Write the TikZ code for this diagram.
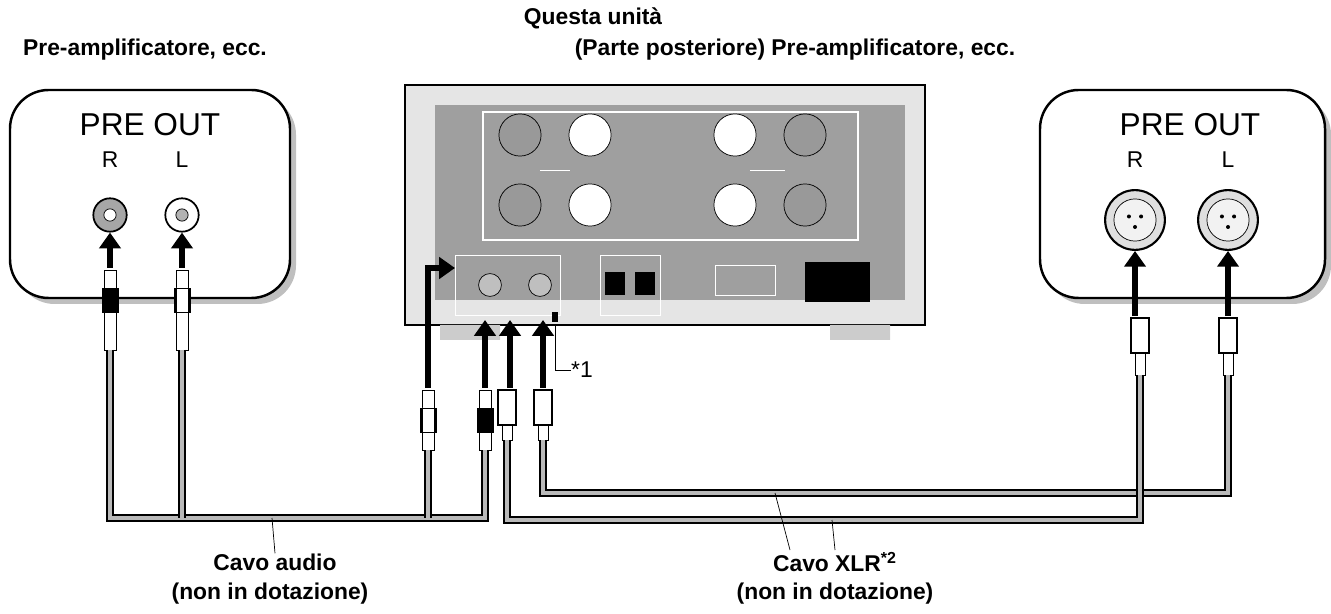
\documentclass[tikz,border=0pt]{standalone}
\usepackage{fontspec}
\setmainfont{Liberation Sans}
\usetikzlibrary{arrows.meta}
\tikzset{
  lbl/.style={font=\bfseries\fontsize{13}{15}\selectfont, inner sep=0pt},
  big/.style={font=\fontsize{18}{20}\selectfont, inner sep=0pt},
  pin/.style={font=\fontsize{13}{15}\selectfont, inner sep=0pt},
  cable/.style={line width=1pt, double=gray!55, double distance=2.2pt},
  push/.style={line width=3pt, -{Triangle[length=9pt,width=12pt]}},
  panel/.style={rounded corners=22pt, draw, line width=1.4pt, fill=white},
  jack/.style={circle, draw, line width=1pt, fill=gray!30, minimum size=19pt, inner sep=0pt},
  xlr/.style={circle, draw, line width=1.2pt, fill=gray!25, minimum size=34pt, inner sep=0pt},
  knob/.style={circle, draw, fill=gray!60, minimum size=24pt, inner sep=0pt},
}
\begin{document}
\begin{tikzpicture}[x=0.02cm, y=-0.02cm]
\useasboundingbox (0,0) rectangle (1331,614);

% titles
\node[lbl] (ttl) at (593,18) {Questa unità};
\node[lbl] (ttr) at (795,50) {(Parte posteriore) Pre-amplificatore, ecc.};
\node[lbl] (ttlft) at (145,50) {Pre-amplificatore, ecc.};

% left pre-amp
\fill[gray!50, rounded corners=22pt] (16,96) rectangle (296,304);
\draw[panel] (10,90) rectangle (290,298);
\node[big] (po1) at (150,125) {PRE OUT};
\node[pin] (r1) at (110,160) {R};
\node[pin] (l1) at (182,160) {L};
\node[jack, fill=gray!70] (jr1) at (110,215) {};
\node[circle, fill=white, draw, minimum size=7pt, inner sep=0pt] at (jr1) {};
\node[jack, fill=white] (jl1) at (182,215) {};
\node[circle, fill=gray!60, draw, minimum size=7pt, inner sep=0pt] at (jl1) {};

% right pre-amp
\fill[gray!50, rounded corners=22pt] (1046,96) rectangle (1331,304);
\draw[panel] (1040,90) rectangle (1325,298);
\node[big] (po2) at (1190,125) {PRE OUT};
\node[pin] (r2) at (1135,160) {R};
\node[pin] (l2) at (1228,160) {L};
\foreach \n/\x in {xr/1135, xl/1228}{
  \node[xlr] (\n) at (\x,220) {};
  \node[circle, draw, fill=gray!10, minimum size=24pt, inner sep=0pt] at (\n) {};
  \foreach \a in {90,210,330} \fill (\n) ++(\a:7) circle (2);
}

% the unit
\fill[gray!20] (405,85) rectangle (925,325);
\draw[line width=1pt] (405,85) rectangle (925,325);
\fill[gray!75] (435,105) rectangle (905,300);
\draw[white, line width=0.8pt] (483,112) rectangle (858,240);
\foreach \x/\y/\c in {520/135/gray!80, 590/135/white, 735/135/white, 805/135/gray!80,
                      520/205/gray!80, 590/205/white, 735/205/white, 805/205/gray!80}
  \node[knob, fill=\c] at (\x,\y) {};
\draw[white] (540,170) -- (570,170) (750,170) -- (785,170);
\fill[gray!40] (440,325) rectangle (500,340) (830,325) rectangle (890,340);
\draw[white] (455,255) rectangle (560,315) (600,255) rectangle (660,315) (715,265) rectangle (775,295);
\fill[black] (805,262) rectangle (870,302);
\foreach \x in {490,540} \node[circle, draw, fill=gray!50, minimum size=13pt, inner sep=0pt] at (\x,285) {};
\foreach \x in {615,645} \fill[black] (\x-10,272) rectangle (\x+10,295);
\fill[black] (552,312) rectangle (558,322);
\coordinate (star) at (555,325);
\node[pin, font=\fontsize{13}{15}\selectfont] (s1) at (582,370) {*1};
\draw (star) -- (555,370) -- (s1.west);

% plugs
\foreach \n/\x/\t/\b in {pr1/110/270/350, pl1/182/270/350, pa/428/390/450, pb/485/390/450}{
  \draw[fill=white] (\x-6,\t) rectangle (\x+6,\t+18);
  \draw[fill=black] (\x-8,\t+18) rectangle (\x+8,\t+42);
  \draw[fill=white] (\x-6,\t+42) rectangle (\x+6,\b);
  \coordinate (\n) at (\x,\b);
}
\fill[white] (176,288) rectangle (188,312) (422,408) rectangle (434,432);
\draw (176,288) rectangle (188,312) (422,408) rectangle (434,432);
\foreach \n/\x/\t/\b in {xa/507/390/440, xb/543/390/440, xc/1140/318/375, xd/1228/318/375}{
  \draw[fill=white, line width=1pt] (\x-9,\t) rectangle (\x+9,\t+35);
  \draw[fill=white] (\x-5,\t+35) rectangle (\x+5,\b);
  \coordinate (\n) at (\x,\b);
}

% cables
\draw[cable] (pr1) -- (110,518) -- (485,518) -- (pb);
\draw[cable] (pl1) -- (182,518);
\draw[cable] (pa) -- (428,518);
\draw[cable] (xb) -- (543,493) -- (1228,493) -- (xd);
\draw[cable] (xa) -- (507,520) -- (1140,520) -- (xc);

% push arrows
\draw[push] (110,268) -- (jr1.south);
\draw[push] (182,268) -- (jl1.south);
\draw[push] (1135,316) -- (xr.south);
\draw[push] (1228,316) -- (xl.south);
\draw[push] (428,388) -- (428,268) -- (455,268);
\foreach \x in {485,510,543} \draw[push] (\x,388) -- (\x,320);

% labels
\node[lbl] (ca) at (275,562) {Cavo audio};
\node[lbl] (cn1) at (270,594) {(non in dotazione)};
\draw (272,518) -- (ca.north);
\node[lbl] (cx) at (835,562) {Cavo XLR\textsuperscript{*2}};
\node[lbl] (cn2) at (835,594) {(non in dotazione)};
\draw (775,493) -- (790,550);
\draw (832,520) -- (835,550);
\end{tikzpicture}
\end{document}
